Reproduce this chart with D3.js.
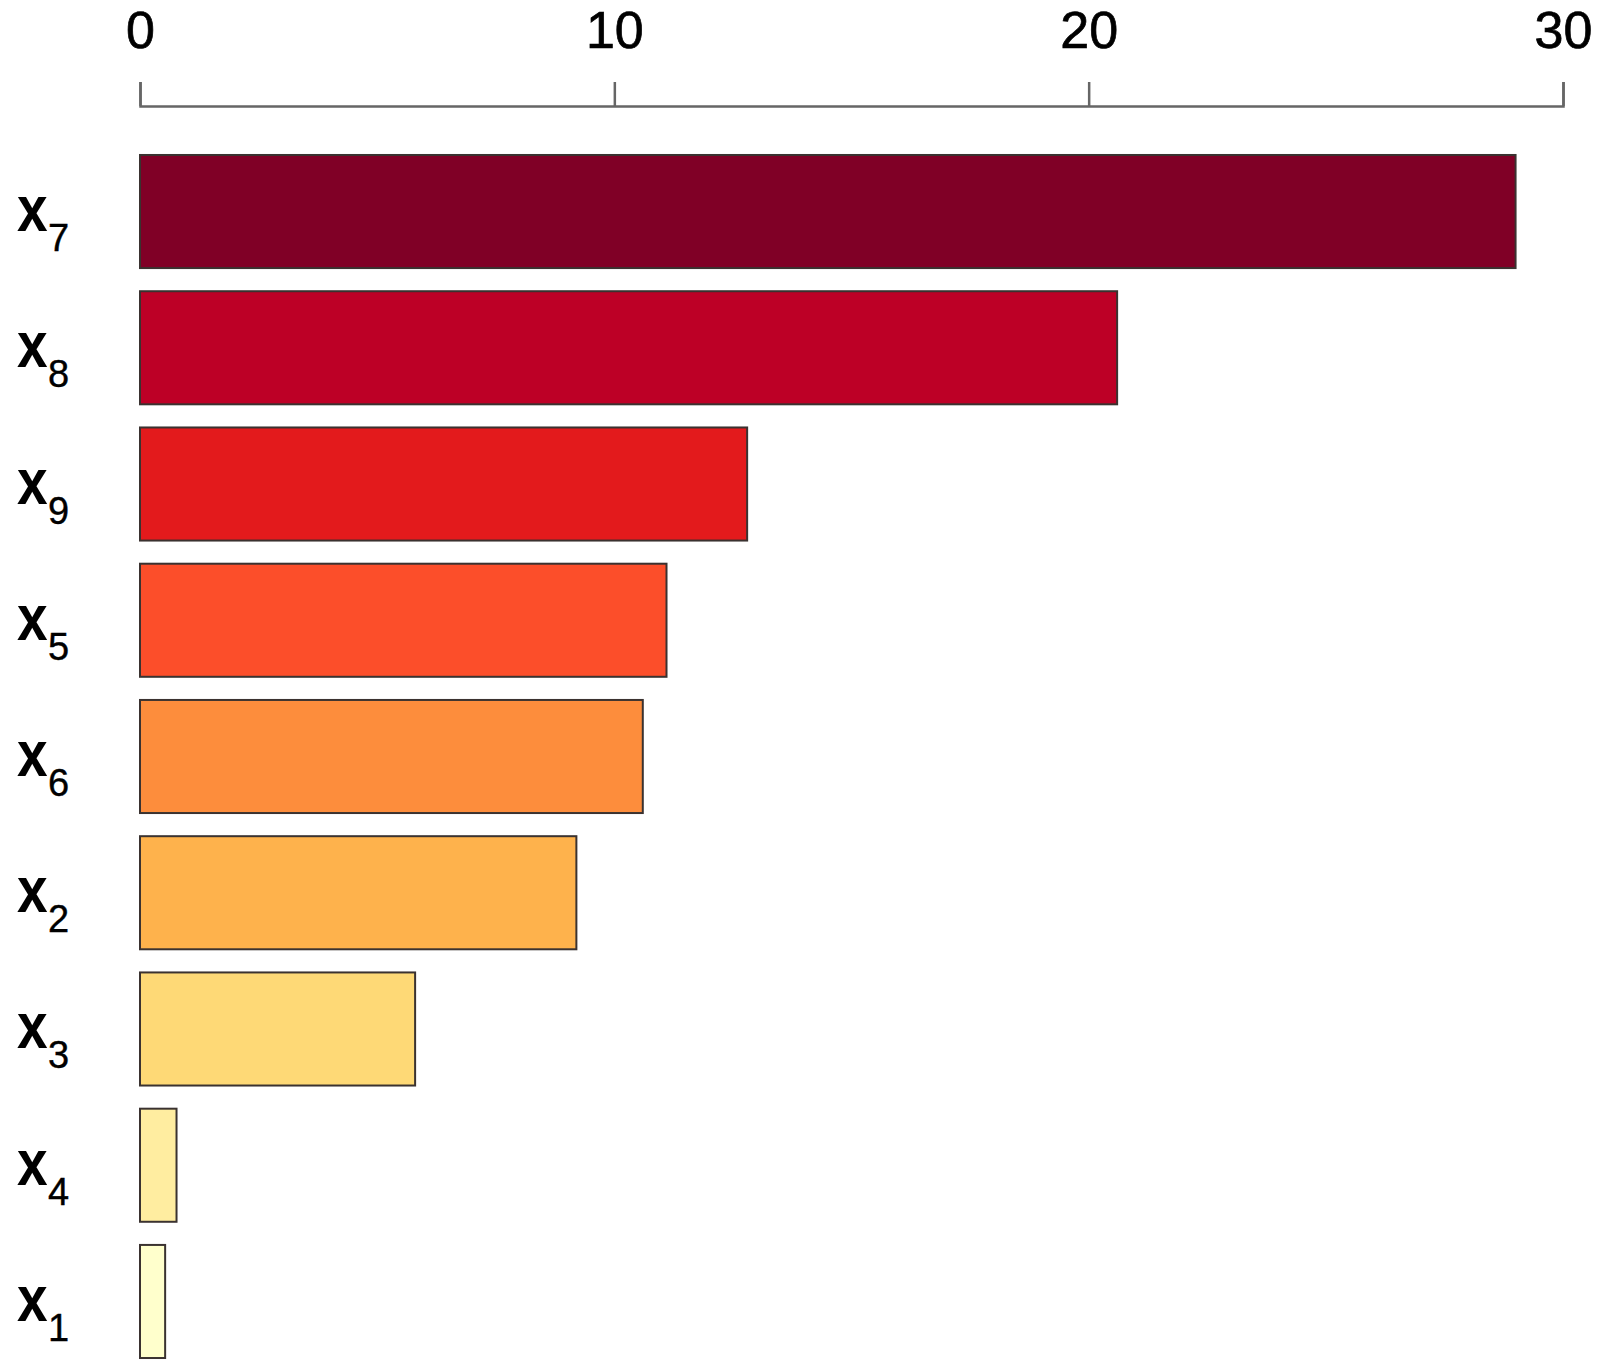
<!DOCTYPE html>
<html>
<head>
<meta charset="utf-8">
<script src="https://cdn.jsdelivr.net/npm/d3@7"></script>
<style>
  html, body { margin: 0; padding: 0; background: #fff; }
  svg { display: block; }
</style>
</head>
<body>
<svg id="chart" width="1600" height="1371"></svg>
<script>
// ---- data ----
const categories = ["7", "8", "9", "5", "6", "2", "3", "4", "1"]; // subscript index of x
const values = [29.0, 20.6, 12.8, 11.1, 10.6, 9.2, 5.8, 0.77, 0.53];
const colors = ["#800026", "#bd0026", "#e31a1c", "#fc4e2a", "#fd8d3c", "#feb24c", "#fed976", "#ffeda0", "#ffffcc"];
const tickValues = [0, 10, 20, 30];

const svg = d3.select("#chart");

const x = d3.scaleLinear().domain([0, 30]).range([140, 1563]);
const y = d3.scaleBand().domain(categories).range([143.4, 1369.6])
  .paddingInner(0.17).paddingOuter(0.085);

// axis
const axisY = 106;
const axis = d3.axisTop(x).tickValues(tickValues).tickSizeOuter(0).tickSize(24).tickPadding(34);
const gAxis = svg.append("g").attr("transform", `translate(0,${axisY})`).call(axis);
gAxis.select(".domain").attr("stroke", "#666").attr("stroke-width", 2.5);
gAxis.selectAll(".tick line").attr("stroke", "#666").attr("stroke-width", 2.5);
gAxis.selectAll(".tick text")
  .attr("fill", "#000")
  .attr("font-family", "'Liberation Sans', Arial, sans-serif")
  .attr("font-size", 52)
  .attr("stroke", "#000")
  .attr("stroke-width", 0.7)
  .attr("dy", "0em");

// bars
svg.append("g").selectAll("rect")
  .data(categories)
  .join("rect")
  .attr("x", x(0))
  .attr("y", d => y(d))
  .attr("width", (d, i) => x(values[i]) - x(0))
  .attr("height", y.bandwidth())
  .attr("fill", (d, i) => colors[i])
  .attr("stroke", "#3a3230")
  .attr("stroke-width", 2);

// y labels: bold x with regular subscript
const labels = svg.append("g").selectAll("g")
  .data(categories)
  .join("g")
  .attr("transform", d => `translate(0,${y(d) + y.bandwidth() / 2})`);

labels.append("text")
  .attr("transform", "translate(17,19.5) scale(0.86,1)")
  .attr("font-family", "'Liberation Sans', Arial, sans-serif")
  .attr("font-weight", "bold")
  .attr("font-size", 64)
  .attr("fill", "#000")
  .text("x");

labels.append("text")
  .attr("x", 48)
  .attr("y", 39.5)
  .attr("font-family", "'Liberation Sans', Arial, sans-serif")
  .attr("font-size", 38)
  .attr("stroke", "#000")
  .attr("stroke-width", 0.4)
  .attr("fill", "#000")
  .text(d => d);
</script>
</body>
</html>
